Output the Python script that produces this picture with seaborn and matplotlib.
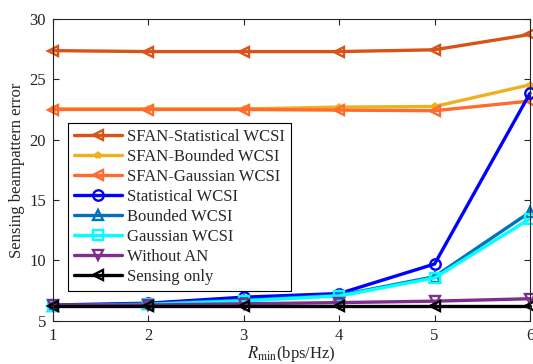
import matplotlib
matplotlib.use("Agg")
import matplotlib.pyplot as plt
import seaborn as sns
import pandas as pd
import numpy as np

rmin = [1, 2, 3, 4, 5, 6]
sfan_statistical = [27.38, 27.3, 27.3, 27.3, 27.45, 28.72]
sfan_bounded = [22.55, 22.55, 22.55, 22.7, 22.75, 24.55]
sfan_gaussian = [22.5, 22.5, 22.5, 22.45, 22.4, 23.2]
statistical = [6.3, 6.45, 6.95, 7.25, 9.7, 23.85]
bounded = [6.25, 6.4, 6.7, 7.1, 8.65, 14.0]
gaussian = [6.2, 6.35, 6.65, 7.05, 8.55, 13.45]
without_an = [6.3, 6.3, 6.4, 6.5, 6.62, 6.82]
sensing_only = [6.2, 6.2, 6.2, 6.2, 6.2, 6.2]

labels = ["SFAN-Statistical WCSI", "SFAN-Bounded WCSI", "SFAN-Gaussian WCSI",
          "Statistical WCSI", "Bounded WCSI", "Gaussian WCSI", "Without AN", "Sensing only"]
series = [sfan_statistical, sfan_bounded, sfan_gaussian, statistical, bounded,
          gaussian, without_an, sensing_only]
colors = ["#D95319", "#EDB120", "#FF6A2E", "#0000FF", "#0072BD", "#00FFFF", "#7E2F8E", "#000000"]
markers = ["<", "*", "<", "o", "^", "s", "v", "<"]

sns.set_theme(style="white")
plt.rcParams['font.family'] = ['Liberation Serif', 'DejaVu Serif']
plt.rcParams['mathtext.fontset'] = 'stix'

fig, ax = plt.subplots(figsize=(5.33, 3.64), dpi=100)
fig.subplots_adjust(left=53/533, right=530/533, top=1-19/364, bottom=1-320.7/364)

for lab, vals, c, m in zip(labels, series, colors, markers):
    df = pd.DataFrame({"x": rmin, "y": vals})
    ms = 5 if m == "*" else 7.5
    sns.lineplot(data=df, x="x", y="y", ax=ax, color=c, marker=m, markersize=ms,
                 markerfacecolor="none", markeredgecolor=c, markeredgewidth=1.7,
                 linewidth=2.4, label=lab, clip_on=False)

ax.set_xlim(1, 6)
ax.set_ylim(5, 30)
ax.set_xticks([1, 2, 3, 4, 5, 6])
ax.set_yticks([5, 10, 15, 20, 25, 30])
ax.tick_params(direction="in", length=4, width=0.8, colors="#262626", labelsize=12,
               top=True, right=True, bottom=True, left=True, pad=5)
for sp in ax.spines.values():
    sp.set_color("#262626")
    sp.set_linewidth(0.8)
    sp.set_visible(True)
ax.set_xlabel(r"$R_{\min}$(bps/Hz)", fontsize=12, labelpad=0)
ax.set_ylabel("Sensing beampattern error", fontsize=12, labelpad=3)

leg = ax.legend(loc="upper left", bbox_to_anchor=(15/477, 1 - 104/301.7), fontsize=12,
                frameon=True, fancybox=False, edgecolor="black", framealpha=1,
                handlelength=2.9, labelspacing=0.24, borderpad=0.35, handletextpad=0.3,
                borderaxespad=0)
leg.get_frame().set_linewidth(0.8)

fig.savefig("out.png", dpi=100)
